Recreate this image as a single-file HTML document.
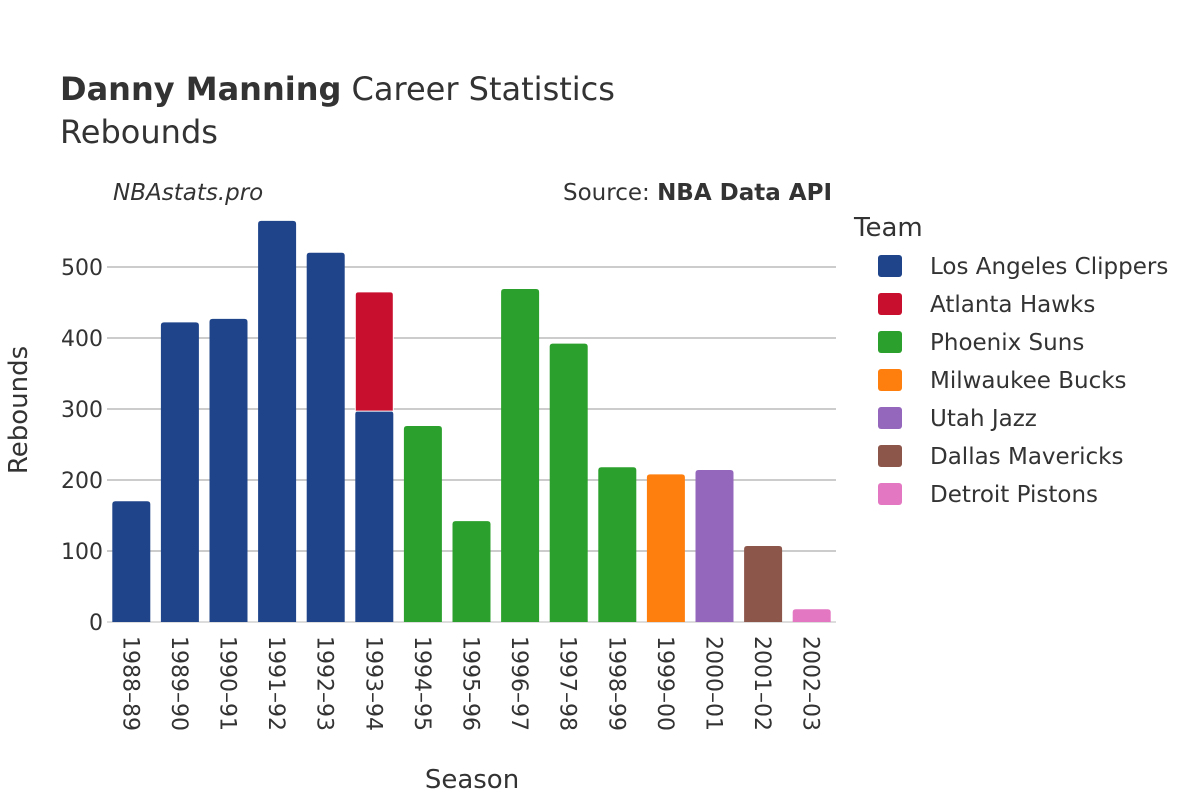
<!DOCTYPE html>
<html><head><meta charset="utf-8"><style>
body{margin:0;background:#fff;}
svg{font-family:"DejaVu Sans","Liberation Sans",sans-serif;}
</style></head><body>
<svg id="chart" width="1200" height="800" viewBox="0 0 1200 800">
<text x="60" y="100" font-size="32" fill="#333"><tspan font-weight="bold">Danny Manning</tspan> Career Statistics</text>
<text x="60" y="143" font-size="32" fill="#333">Rebounds</text>
<text x="113" y="200" font-size="23" font-style="italic" fill="#333">NBAstats.pro</text>
<text x="832" y="200" font-size="23" fill="#333" text-anchor="end">Source: <tspan font-weight="bold">NBA Data API</tspan></text>
<g id="grid"></g><g id="bars"></g><g id="xlabels"></g><g id="ylabels"></g>
<text x="472" y="788" font-size="26" fill="#333" text-anchor="middle">Season</text>
<text transform="translate(27,410) rotate(-90)" font-size="26" fill="#333" text-anchor="middle">Rebounds</text>
<text x="854" y="236" font-size="26" fill="#333">Team</text>
<g id="legend"></g>
</svg>
<script>
const seasons=["1988–89","1989–90","1990–91","1991–92","1992–93","1993–94","1994–95","1995–96","1996–97","1997–98","1998–99","1999–00","2000–01","2001–02","2002–03"];
const teams=["Los Angeles Clippers","Atlanta Hawks","Phoenix Suns","Milwaukee Bucks","Utah Jazz","Dallas Mavericks","Detroit Pistons"];
const colors=["#1f448a","#c8102e","#2ca02c","#ff7f0e","#9467bd","#8c564b","#e377c2"];
const segTeam=[0,0,0,0,0,0,1,2,2,2,2,2,3,4,5,6];
const segSeason=[0,1,2,3,4,5,5,6,7,8,9,10,11,12,13,14];
const segValue=[170,422,427,565,520,297,168,276,142,469,392,218,208,214,107,18];
const yTicks=[0,100,200,300,400,500];
const NS="http://www.w3.org/2000/svg";
const x0=107,x1=836,yBase=622,pxPer=0.71;
const band=(x1-x0)/seasons.length,bw=38;
const yS=v=>yBase-v*pxPer;
const xS=i=>x0+band*i+band/2;
function mk(t,a,p){const e=document.createElementNS(NS,t);for(const k in a)e.setAttribute(k,a[k]);p.appendChild(e);return e;}
const g=document.getElementById('grid'),yl=document.getElementById('ylabels');
yTicks.forEach(v=>{
 const l=mk('line',{x1:x0,x2:x1,y1:yS(v),y2:yS(v),stroke:v===0?'#ddd':'#999','stroke-width':v===0?2:1},g);
 
 
 const t=mk('text',{x:x0-4,y:yS(v)+8,'font-size':22,fill:'#333','text-anchor':'end'},yl);t.textContent=v;
 
 
});
const stack=seasons.map(()=>0);
const bg=document.getElementById('bars');
segValue.forEach((v,k)=>{
 const s=segSeason[k],b=stack[s];stack[s]+=v;
 const r=mk('path',{},bg);
 const xl=xS(s)-bw/2,yt=yS(b+v),yb=yS(b),rad=3;
 r.setAttribute('d',`M${xl},${yb}V${yt+rad}Q${xl},${yt} ${xl+rad},${yt}H${xl+bw-rad}Q${xl+bw},${yt} ${xl+bw},${yt+rad}V${yb}Z`);
 r.setAttribute('fill',colors[segTeam[k]]);
 if(b>0){r.setAttribute('stroke','#fff');r.setAttribute('stroke-width','1');}
 
 
});
const xl=document.getElementById('xlabels');
seasons.forEach((s,i)=>{
 const t=mk('text',{transform:`translate(${xS(i)-8},636) rotate(90)`,'font-size':22,fill:'#333'},xl);t.textContent=s;
 
 
});
const lg=document.getElementById('legend');
teams.forEach((tm,i)=>{
 const y=266+i*38;
 const gr=mk('g',{},lg);
 
 
 mk('rect',{x:878,y:y-11,width:24,height:22,rx:3,fill:colors[i]},gr);
 const t=mk('text',{x:930,y:y+8,'font-size':23,fill:'#333'},gr);t.textContent=tm;
});
</script>
</body></html>
